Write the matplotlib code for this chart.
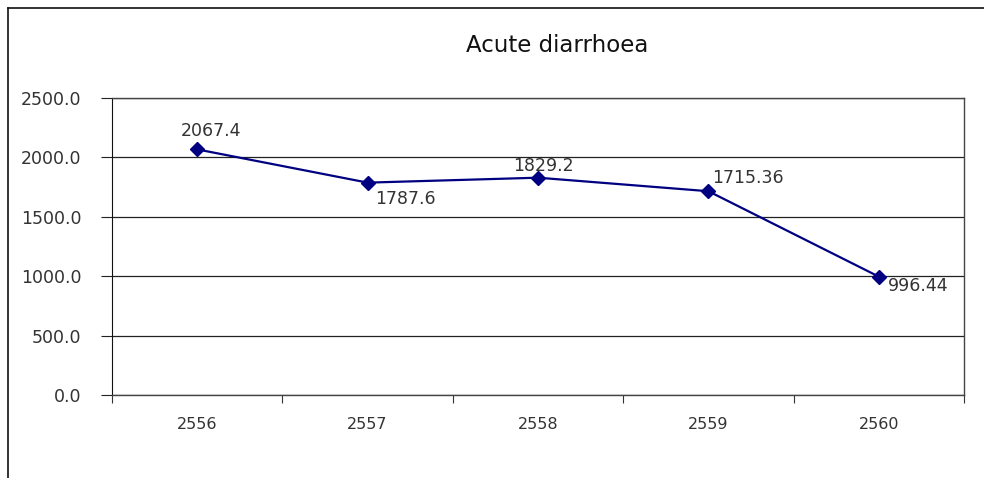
import numpy as np
import matplotlib.pyplot as plt
from matplotlib.lines import Line2D

# data
years = ["2556", "2557", "2558", "2559", "2560"]
values = [2067.4, 1787.6, 1829.2, 1715.36, 996.44]
labels = ["2067.4", "1787.6", "1829.2", "1715.36", "996.44"]
yticks = [0, 500, 1000, 1500, 2000, 2500]

W, H = 984, 478
PT = 0.72  # px -> pt at dpi 100
fig = plt.figure(figsize=(W / 100, H / 100), dpi=100)
ax = fig.add_axes([112 / W, 1 - 395 / H, (964 - 112) / W, (395 - 98) / H])

x = np.arange(len(years))
ax.plot(x, values, color="#000080", lw=1.6, marker="D", ms=7, zorder=3)

# data labels, offsets in pixels from the marker
offsets = [(-16, 9, "bottom"), (8, -7, "top"), (-25, 3, "bottom"),
           (4, 4, "bottom"), (9, 0, "top")]
for xi, v, s, (dx, dy, va) in zip(x, values, labels, offsets):
    ax.annotate(s, (xi, v), xytext=(dx * PT, dy * PT), textcoords="offset points",
                ha="left", va=va, fontsize=12.5, color="#333333", zorder=4)

ax.set_xlim(-0.5, len(years) - 0.5)
ax.set_ylim(0, 2500)
ax.set_yticks(yticks)
ax.set_yticklabels([f"{t:.1f}" for t in yticks])
ax.yaxis.grid(True, color="#222222", lw=0.9)
ax.set_axisbelow(True)

ax.set_xticks(np.arange(-0.5, len(years)))
ax.set_xticklabels([])
ax.set_xticks(x, minor=True)
ax.set_xticklabels(years, minor=True)
ax.tick_params(axis="x", which="major", direction="out", length=6, color="#333333")
ax.tick_params(axis="x", which="minor", length=0, pad=16, labelsize=11.5, labelcolor="#333333")
ax.tick_params(axis="y", direction="out", length=8, pad=14, labelsize=12.5,
               labelcolor="#333333", color="#222222")

for side in ["top", "right", "bottom"]:
    ax.spines[side].set_color("#444444")
    ax.spines[side].set_linewidth(1.0)
ax.spines["left"].set_color("#111111")

fig.text(557 / W, 1 - 45 / H, "Acute diarrhoea", ha="center", va="center",
         fontsize=16.5, color="#111111")

# outer border
fig.add_artist(Line2D([8 / W, 1], [1 - 8 / H, 1 - 8 / H], color="#111111", lw=1.2,
                      transform=fig.transFigure))
fig.add_artist(Line2D([8 / W, 8 / W], [0, 1 - 8 / H], color="#111111", lw=1.2,
                      transform=fig.transFigure))

fig.savefig("out.png", dpi=100)
